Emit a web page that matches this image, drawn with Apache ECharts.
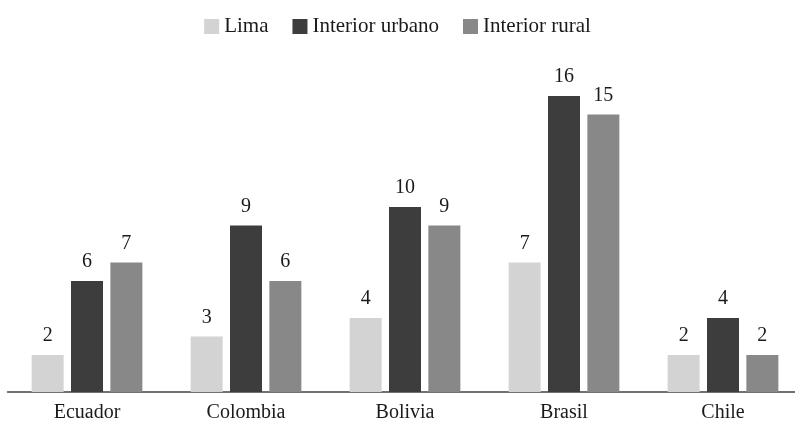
<!DOCTYPE html>
<html lang="es">
<head>
  <meta charset="UTF-8">
  <title>Gráfico</title>
  <script src="https://cdn.jsdelivr.net/npm/echarts@6/dist/echarts.min.js"></script>
  <style>
    html, body { margin: 0; padding: 0; background: #fff; }
    #chart { width: 795px; height: 423px; }
  </style>
</head>
<body>
<div id="chart"></div>
<script>
  // datos
  var paises = ['Ecuador', 'Colombia', 'Bolivia', 'Brasil', 'Chile'];
  var lima = [2, 3, 4, 7, 2];
  var interiorUrbano = [6, 9, 10, 16, 4];
  var interiorRural = [7, 6, 9, 15, 2];

  var fuente = '"Liberation Serif", "DejaVu Serif", serif';

  function serie(nombre, datos, color) {
    return {
      name: nombre,
      type: 'bar',
      data: datos,
      barWidth: 32,
      barGap: '23%',
      itemStyle: { color: color },
      label: {
        show: true,
        position: 'top',
        distance: 9,
        color: '#1a1a1a',
        fontFamily: fuente,
        fontSize: 20
      }
    };
  }

  var chart = echarts.init(document.getElementById('chart'));
  chart.setOption({
    animation: false,
    legend: {
      top: 11,
      left: 'center',
      icon: 'rect',
      itemWidth: 15,
      itemHeight: 15,
      itemGap: 24,
      textStyle: { fontFamily: fuente, fontSize: 21, color: '#1a1a1a' },
      data: ['Lima', 'Interior urbano', 'Interior rural']
    },
    // la rejilla sale un poco del lienzo por la derecha
    grid: { left: 7.5, width: 795, top: 96, bottom: 31, outerBoundsMode: 'none' },
    xAxis: {
      type: 'category',
      data: paises,
      axisTick: { show: false },
      axisLine: { lineStyle: { color: '#444', width: 1.5 } },
      axisLabel: { fontFamily: fuente, fontSize: 20, color: '#1a1a1a', margin: 11 }
    },
    yAxis: {
      type: 'value',
      min: 0,
      max: 16,
      show: false,
      splitLine: { show: false }
    },
    series: [
      serie('Lima', lima, '#d3d3d3'),
      serie('Interior urbano', interiorUrbano, '#3d3d3d'),
      serie('Interior rural', interiorRural, '#888888')
    ]
  });
</script>
</body>
</html>
